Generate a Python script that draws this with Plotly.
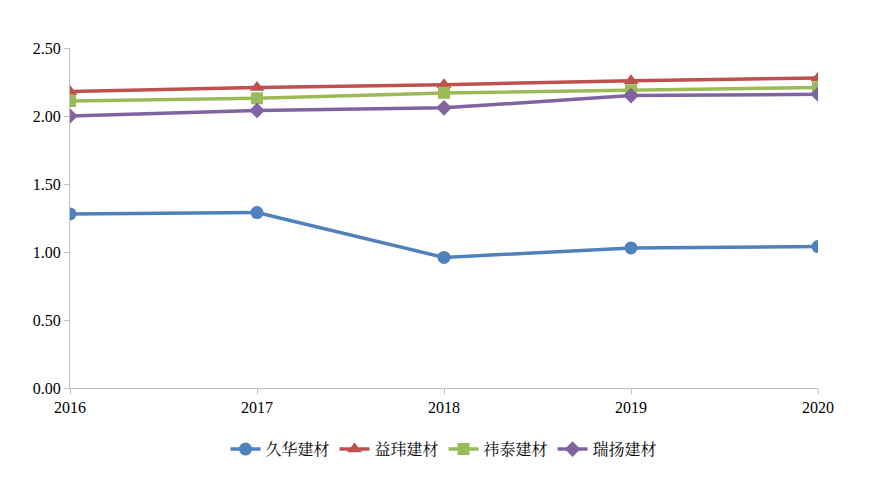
import plotly.graph_objects as go

years = [2016, 2017, 2018, 2019, 2020]
jiuhua = [1.28, 1.29, 0.96, 1.03, 1.04]
yiwei = [2.18, 2.21, 2.23, 2.26, 2.28]
yitai = [2.11, 2.13, 2.17, 2.19, 2.21]
ruiyang = [2.00, 2.04, 2.06, 2.15, 2.16]

series = [
    ("久华建材", jiuhua, "#4F81BD", "circle", 13),
    ("益玮建材", yiwei, "#C0504D", "triangle-up", 13),
    ("祎泰建材", yitai, "#9BBB59", "square", 12),
    ("瑞扬建材", ruiyang, "#8064A2", "diamond", 12),
]

fig = go.Figure(
    data=[
        go.Scatter(
            x=years, y=vals, name=name, mode="lines+markers",
            line=dict(color=color, width=3.5),
            marker=dict(symbol=sym, size=size, color=color),
        ) for name, vals, color, sym, size in series
    ]
)

fig.update_layout(
    width=878, height=481,
    margin=dict(l=62, r=68, t=40, b=101),
    plot_bgcolor="white", paper_bgcolor="white",
    font=dict(family="Times New Roman, Liberation Serif, serif", size=16, color="black"),
    xaxis=dict(
        range=[2016, 2020], tickvals=years, showgrid=False,
        showline=True, linecolor="#BFBFBF", ticks="outside", tickcolor="#BFBFBF",
        ticklen=5,
    ),
    yaxis=dict(
        range=[0, 2.5], dtick=0.5, tickformat=".2f", showgrid=False,
        showline=True, linecolor="#BFBFBF", ticks="outside", tickcolor="#BFBFBF",
        ticklen=5, zeroline=False,
    ),
    legend=dict(
        orientation="h", x=0.5, xanchor="center", y=-0.13, yanchor="top",
        font=dict(family="Noto Serif CJK SC, Noto Sans CJK SC", size=16),
    ),
)

fig.write_html("out.html")
